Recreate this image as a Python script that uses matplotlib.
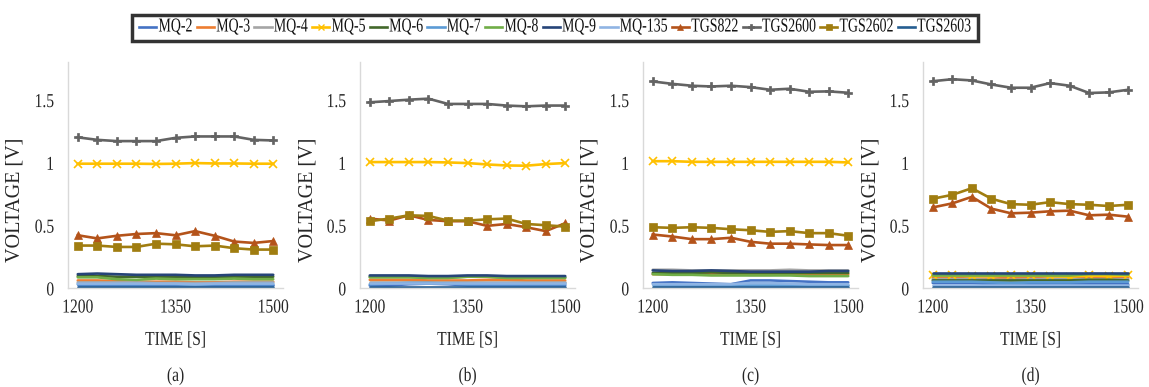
import matplotlib
matplotlib.use("Agg")
import matplotlib.pyplot as plt
from matplotlib.lines import Line2D
from matplotlib.patheffects import AbstractPathEffect
from matplotlib.transforms import Affine2D

plt.rcParams['font.family'] = ['Liberation Serif', 'DejaVu Serif']

time = [1200, 1230, 1260, 1290, 1320, 1350, 1380, 1410, 1440, 1470, 1500]
xticks = [1200, 1350, 1500]
yticks = [0, 0.5, 1, 1.5]
ytick_labels = ["0", "0.5", "1", "1.5"]
panel_labels = ["(a)", "(b)", "(c)", "(d)"]

sensors = ["MQ-2", "MQ-3", "MQ-4", "MQ-5", "MQ-6", "MQ-7", "MQ-8", "MQ-9",
           "MQ-135", "TGS822", "TGS2600", "TGS2602", "TGS2603"]
colors = ["#4472C4", "#ED7D31", "#A5A5A5", "#FFC000", "#43682B", "#5B9BD5",
          "#70AD47", "#264478", "#8FB4E3", "#B4531A", "#636363", "#A07D10", "#255E91"]
markers = [None, None, None, "x", None, None, None, None, None, "^", "P", "s", None]

# panel (a)
a_vals = {
    "MQ-2":    [0.02, 0.02, 0.02, 0.02, 0.02, 0.02, 0.02, 0.02, 0.02, 0.02, 0.02],
    "MQ-3":    [0.06, 0.06, 0.055, 0.05, 0.05, 0.05, 0.045, 0.045, 0.05, 0.05, 0.05],
    "MQ-4":    [0.045, 0.045, 0.045, 0.045, 0.04, 0.04, 0.04, 0.04, 0.045, 0.045, 0.045],
    "MQ-5":    [0.99, 0.99, 0.99, 0.99, 0.988, 0.99, 0.995, 0.992, 0.992, 0.99, 0.99],
    "MQ-6":    [0.095, 0.095, 0.09, 0.09, 0.09, 0.09, 0.09, 0.09, 0.09, 0.09, 0.09],
    "MQ-7":    [0.03, 0.03, 0.03, 0.03, 0.03, 0.03, 0.025, 0.03, 0.03, 0.03, 0.03],
    "MQ-8":    [0.085, 0.085, 0.07, 0.065, 0.075, 0.07, 0.07, 0.07, 0.075, 0.07, 0.07],
    "MQ-9":    [0.11, 0.115, 0.11, 0.105, 0.105, 0.105, 0.1, 0.1, 0.105, 0.105, 0.105],
    "MQ-135":  [0.035, 0.035, 0.035, 0.035, 0.035, 0.035, 0.03, 0.035, 0.035, 0.035, 0.035],
    "TGS822":  [0.42, 0.395, 0.416, 0.43, 0.437, 0.42, 0.453, 0.416, 0.37, 0.359, 0.374],
    "TGS2600": [1.20, 1.18, 1.17, 1.17, 1.17, 1.196, 1.207, 1.207, 1.207, 1.18, 1.175],
    "TGS2602": [0.338, 0.338, 0.327, 0.327, 0.353, 0.348, 0.332, 0.338, 0.317, 0.306, 0.306],
    "TGS2603": [0.01, 0.01, 0.01, 0.01, 0.01, 0.01, 0.01, 0.01, 0.01, 0.01, 0.01],
}
# panel (b)
b_vals = {
    "MQ-2":    [0.02, 0.02, 0.03, 0.035, 0.03, 0.02, 0.02, 0.02, 0.02, 0.02, 0.02],
    "MQ-3":    [0.065, 0.065, 0.065, 0.06, 0.06, 0.06, 0.065, 0.065, 0.06, 0.06, 0.06],
    "MQ-4":    [0.05, 0.05, 0.05, 0.05, 0.05, 0.05, 0.05, 0.05, 0.05, 0.05, 0.05],
    "MQ-5":    [1.003, 1.003, 1.003, 1.003, 1.0, 0.995, 0.984, 0.976, 0.974, 0.987, 0.995],
    "MQ-6":    [0.09, 0.09, 0.09, 0.085, 0.085, 0.09, 0.09, 0.085, 0.085, 0.085, 0.085],
    "MQ-7":    [0.03, 0.035, 0.04, 0.04, 0.035, 0.03, 0.03, 0.03, 0.03, 0.03, 0.03],
    "MQ-8":    [0.085, 0.085, 0.085, 0.08, 0.08, 0.09, 0.09, 0.08, 0.08, 0.08, 0.08],
    "MQ-9":    [0.1, 0.1, 0.1, 0.095, 0.095, 0.1, 0.1, 0.095, 0.095, 0.095, 0.095],
    "MQ-135":  [0.04, 0.04, 0.04, 0.04, 0.04, 0.04, 0.04, 0.04, 0.04, 0.04, 0.04],
    "TGS822":  [0.553, 0.537, 0.579, 0.542, 0.532, 0.532, 0.495, 0.51, 0.484, 0.453, 0.516],
    "TGS2600": [1.479, 1.489, 1.5, 1.508, 1.466, 1.466, 1.466, 1.453, 1.447, 1.453, 1.453],
    "TGS2602": [0.532, 0.553, 0.579, 0.574, 0.537, 0.537, 0.547, 0.553, 0.51, 0.5, 0.489],
    "TGS2603": [0.01, 0.01, 0.01, 0.01, 0.01, 0.01, 0.01, 0.01, 0.01, 0.01, 0.01],
}
# panel (c)
c_vals = {
    "MQ-2":    [0.04, 0.045, 0.04, 0.035, 0.03, 0.06, 0.06, 0.055, 0.05, 0.045, 0.045],
    "MQ-3":    [0.11, 0.11, 0.11, 0.11, 0.11, 0.105, 0.105, 0.11, 0.105, 0.11, 0.11],
    "MQ-4":    [0.145, 0.145, 0.14, 0.14, 0.14, 0.14, 0.14, 0.145, 0.14, 0.14, 0.14],
    "MQ-5":    [1.01, 1.01, 1.005, 1.005, 1.005, 1.005, 1.005, 1.005, 1.005, 1.005, 1.0],
    "MQ-6":    [0.12, 0.12, 0.12, 0.125, 0.12, 0.12, 0.12, 0.12, 0.12, 0.12, 0.12],
    "MQ-7":    [0.02, 0.02, 0.02, 0.02, 0.02, 0.02, 0.02, 0.02, 0.02, 0.02, 0.02],
    "MQ-8":    [0.11, 0.105, 0.105, 0.1, 0.1, 0.1, 0.1, 0.1, 0.095, 0.095, 0.095],
    "MQ-9":    [0.14, 0.135, 0.135, 0.14, 0.135, 0.13, 0.13, 0.13, 0.13, 0.135, 0.135],
    "MQ-135":  [0.03, 0.03, 0.03, 0.03, 0.03, 0.04, 0.04, 0.035, 0.03, 0.03, 0.03],
    "TGS822":  [0.426, 0.41, 0.389, 0.389, 0.4, 0.368, 0.353, 0.353, 0.347, 0.342, 0.342],
    "TGS2600": [1.645, 1.626, 1.611, 1.605, 1.611, 1.6, 1.579, 1.587, 1.563, 1.566, 1.555],
    "TGS2602": [0.484, 0.479, 0.484, 0.479, 0.468, 0.46, 0.447, 0.453, 0.437, 0.437, 0.416],
    "TGS2603": [0.01, 0.01, 0.01, 0.01, 0.01, 0.01, 0.01, 0.01, 0.01, 0.01, 0.01],
}
# panel (d)
d_vals = {
    "MQ-2":    [0.04, 0.04, 0.04, 0.03, 0.025, 0.03, 0.035, 0.035, 0.03, 0.03, 0.03],
    "MQ-3":    [0.08, 0.08, 0.075, 0.075, 0.08, 0.08, 0.075, 0.075, 0.08, 0.08, 0.08],
    "MQ-4":    [0.07, 0.07, 0.07, 0.065, 0.065, 0.07, 0.07, 0.07, 0.07, 0.07, 0.07],
    "MQ-5":    [0.1, 0.1, 0.095, 0.095, 0.1, 0.1, 0.095, 0.09, 0.1, 0.095, 0.1],
    "MQ-6":    [0.06, 0.06, 0.06, 0.06, 0.06, 0.06, 0.06, 0.06, 0.065, 0.065, 0.06],
    "MQ-7":    [0.05, 0.05, 0.05, 0.045, 0.04, 0.045, 0.045, 0.045, 0.05, 0.05, 0.05],
    "MQ-8":    [0.1, 0.1, 0.1, 0.1, 0.1, 0.1, 0.1, 0.1, 0.11, 0.11, 0.105],
    "MQ-9":    [0.12, 0.12, 0.12, 0.12, 0.12, 0.12, 0.12, 0.12, 0.12, 0.12, 0.12],
    "MQ-135":  [0.02, 0.02, 0.02, 0.02, 0.02, 0.02, 0.02, 0.02, 0.02, 0.02, 0.02],
    "TGS822":  [0.642, 0.674, 0.726, 0.632, 0.595, 0.6, 0.611, 0.616, 0.579, 0.584, 0.568],
    "TGS2600": [1.647, 1.663, 1.653, 1.621, 1.595, 1.595, 1.632, 1.611, 1.553, 1.558, 1.579],
    "TGS2602": [0.711, 0.742, 0.795, 0.711, 0.668, 0.663, 0.684, 0.668, 0.663, 0.653, 0.663],
    "TGS2603": [0.01, 0.01, 0.01, 0.01, 0.01, 0.01, 0.01, 0.01, 0.01, 0.01, 0.01],
}
panels = [a_vals, b_vals, c_vals, d_vals]


class Stretch(AbstractPathEffect):
    """Draw text glyphs taller than their layout size (condensed look)."""
    def __init__(self, sy, anchor=0.0):
        super().__init__()
        self.sy = sy
        self.anchor = anchor

    def draw_path(self, renderer, gc, tpath, affine, rgbFace=None):
        v = tpath.vertices
        ymax = float(v[:, 1].max()) if len(v) else 0.0
        t = (Affine2D().translate(0, -self.anchor * ymax)
             .scale(1, self.sy).translate(0, self.anchor * ymax))
        renderer.draw_path(gc, tpath, t + affine, rgbFace)


W, H = 1149, 387
fig = plt.figure(figsize=(W / 100, H / 100), dpi=100)
lefts_px = [68, 360, 643, 923]
ax_w_px = 215
top_px, bot_px = 62, 288
ax_h_px = bot_px - top_px
grid_color = "#D9D9D9"
text_color = "#262626"
FS = 11.2
SY = 1.27

for i, (vals, lp) in enumerate(zip(panels, lefts_px)):
    ax = fig.add_axes([lp / W, 1 - bot_px / H, ax_w_px / W, ax_h_px / H])
    for name, col, mk in zip(sensors, colors, markers):
        if mk is None:
            ax.plot(time, vals[name], color=col, lw=1.9, solid_capstyle="round")
        else:
            ax.plot(time, vals[name], color=col, lw=1.9, marker=mk,
                    markersize=5.5 if mk != "x" else 6,
                    markeredgewidth=1.2 if mk == "x" else 0.5)
    ax.set_xlim(1185, 1515)
    ax.set_ylim(0, 1.8)
    ax.set_xticks(xticks)
    ax.set_xticklabels([str(t) for t in xticks])
    ax.set_yticks(yticks)
    ax.set_yticklabels(ytick_labels)
    ax.tick_params(length=0, labelsize=FS, colors=text_color)
    ax.tick_params(axis="x", pad=7)
    ax.tick_params(axis="y", pad=10)
    for lab in ax.get_xticklabels():
        lab.set_path_effects([Stretch(SY, 1.0)])
    for lab in ax.get_yticklabels():
        lab.set_path_effects([Stretch(SY, 0.5)])
    for s in ["top", "right"]:
        ax.spines[s].set_visible(False)
    for s in ["left", "bottom"]:
        ax.spines[s].set_color(grid_color)
        ax.spines[s].set_linewidth(1.0)
    ax.set_xlabel("TIME [S]", fontsize=FS, color=text_color)
    ax.xaxis.label.set_path_effects([Stretch(SY, 1.0)])
    ax.xaxis.set_label_coords(0.5, (bot_px - 330) / ax_h_px)
    ax.set_ylabel("VOLTAGE [V]", fontsize=14.5, color=text_color)
    ax.yaxis.set_label_coords(-43 / ax_w_px, (bot_px - 200) / ax_h_px)
    t = ax.text(0.5, (bot_px - 375.5) / ax_h_px, panel_labels[i], transform=ax.transAxes,
                ha="center", va="center", fontsize=FS, color=text_color)
    t.set_path_effects([Stretch(SY, 0.5)])

handles = []
for name, col, mk in zip(sensors, colors, markers):
    handles.append(Line2D([], [], color=col, lw=1.9, marker=mk,
                          markersize=5 if mk else 0, markeredgewidth=1.0 if mk == "x" else 0.5))
leg = fig.legend(handles, sensors, loc="center", bbox_to_anchor=(555 / W, 1 - 28 / H),
                 ncol=13, fontsize=10, handlelength=1.25, handletextpad=0.15,
                 columnspacing=0.3, frameon=True, fancybox=False, borderpad=0.5,
                 borderaxespad=0)
leg.get_frame().set_edgecolor("black")
leg.get_frame().set_linewidth(2.5)
for txt in leg.get_texts():
    txt.set_color("#111111")
    txt.set_path_effects([Stretch(1.42, 0.0)])

fig.savefig("out.png", dpi=100)
